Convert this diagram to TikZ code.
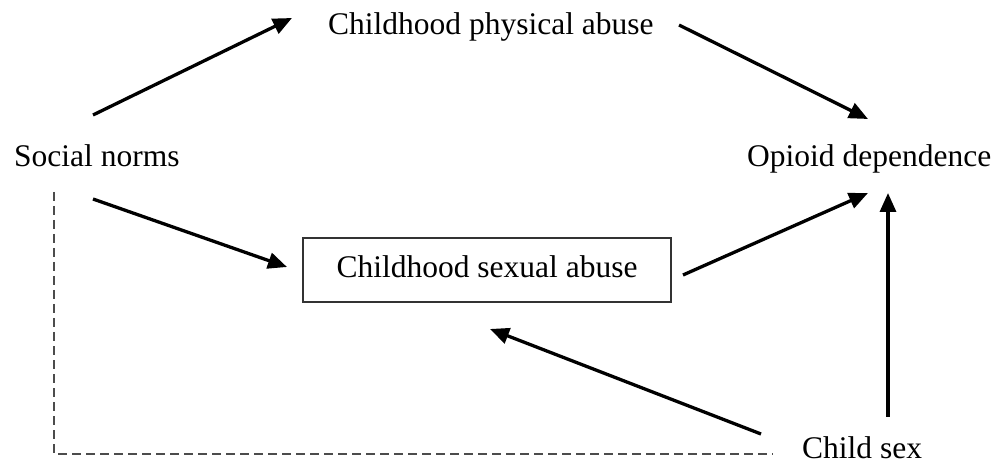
\documentclass[tikz,border=0pt]{standalone}
\usepackage{fontspec}
\setmainfont{Liberation Serif}
\usetikzlibrary{arrows.meta}
\begin{document}
\begin{tikzpicture}[x=1bp,y=-1bp,
  lbl/.style={inner sep=0pt,anchor=base west,font=\fontsize{31.5bp}{38bp}\selectfont},
  boxed/.style={draw=black!80,line width=1.4bp,inner sep=0pt,minimum width=368bp,minimum height=64bp,
    text height=21.5bp,text depth=7bp,font=\fontsize{31.5bp}{38bp}\selectfont},
  link/.style={line width=3.3bp,-{Triangle[length=19bp,width=16bp]}},
  confound/.style={draw=black!70,line width=1.4bp,dash pattern=on 9bp off 5bp}]
\useasboundingbox (0,0) rectangle (1001,468);

% variables
\node[lbl] (soc) at (14,167) {Social norms};
\node[lbl] (phys) at (328,35) {Childhood physical abuse};
\node[lbl] (opi) at (747,167) {Opioid dependence};
\node[lbl] (sex) at (802,458) {Child sex};
\node[boxed] (csa) at (487,270) {Childhood sexual abuse};

% attachment points of the arrows
\coordinate (socUp) at (93,115);
\coordinate (socDown) at (93,199);
\coordinate (physIn) at (292,18);
\coordinate (physOut) at (679,25);
\coordinate (opiLeft) at (868,119);
\coordinate (opiLow) at (868,193);
\coordinate (opiBottom) at (888,193);
\coordinate (csaIn) at (287,267);
\coordinate (csaOut) at (683,275);
\coordinate (csaBelow) at (490,329);
\coordinate (sexUp) at (888,417);
\coordinate (sexLeft) at (761,434);
\coordinate (socDash) at (54,192);
\coordinate (sexDash) at (773,454);

% causal paths
\draw[link] (socUp) -- (physIn);
\draw[link] (physOut) -- (opiLeft);
\draw[link] (socDown) -- (csaIn);
\draw[link] (csaOut) -- (opiLow);
\draw[link] (sexUp) -- (opiBottom);
\draw[link] (sexLeft) -- (csaBelow);

% dashed link between social norms and child sex
\draw[confound] (socDash) |- (sexDash);
\end{tikzpicture}
\end{document}
